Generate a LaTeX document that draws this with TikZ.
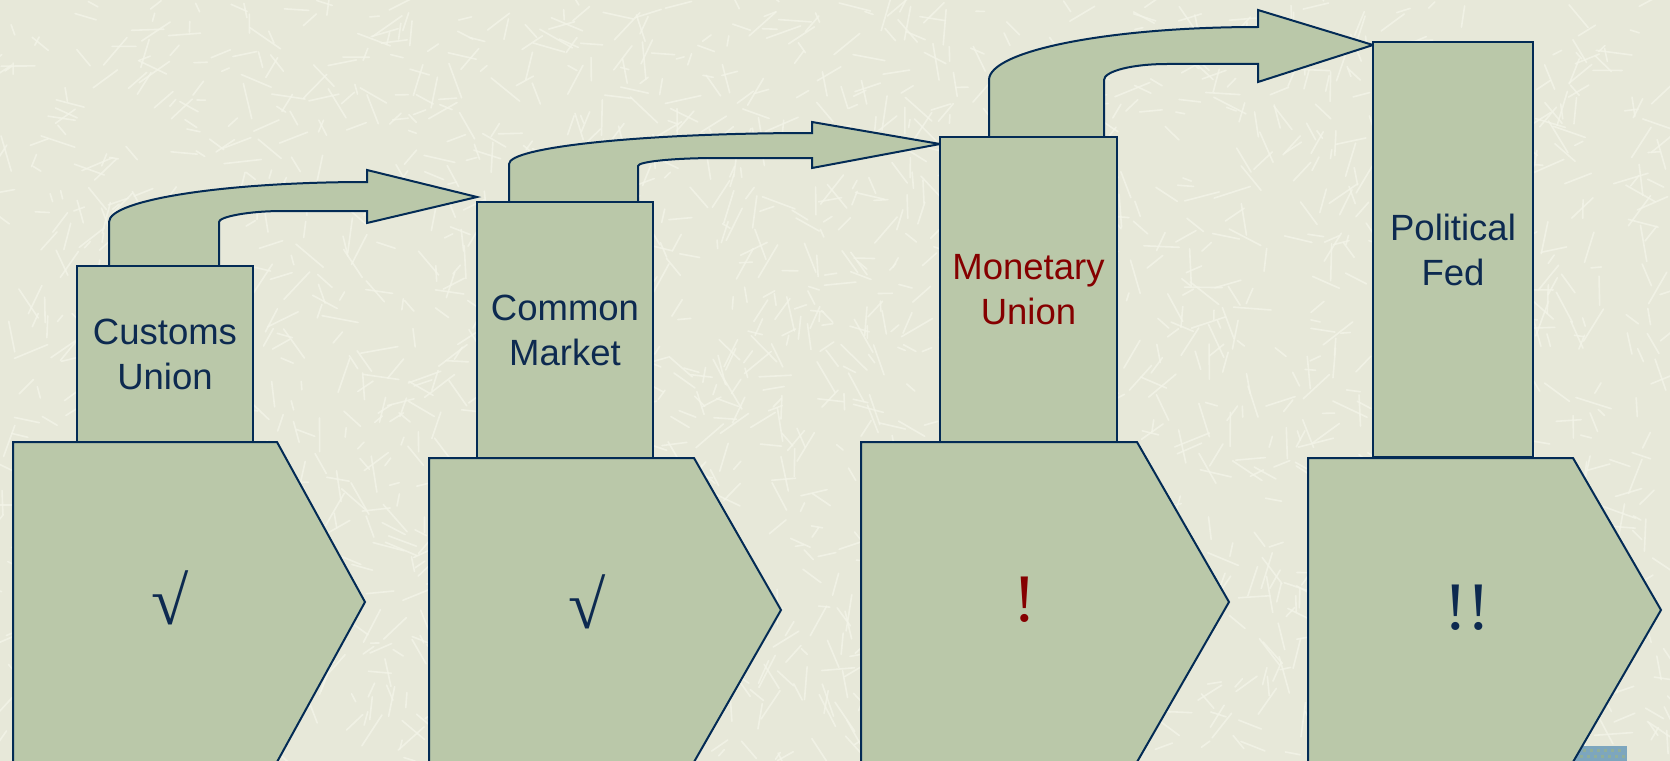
\documentclass[tikz,border=0pt]{standalone}
\usepackage{fontspec}
\setmainfont{Liberation Sans}
\newfontfamily\symfont{Liberation Serif}
\definecolor{bgc}{HTML}{E7E8D9}
\definecolor{texc}{HTML}{F3F4E8}
\definecolor{fillc}{HTML}{BAC8A9}
\definecolor{linec}{HTML}{032B55}
\definecolor{navy}{HTML}{0D2A50}
\definecolor{dred}{HTML}{850000}
\definecolor{patchc}{HTML}{7DA6BE}
\definecolor{patchdot}{HTML}{8FAE9A}
\tikzset{
  shapest/.style={fill=fillc, draw=linec, line width=2bp, line join=miter},
  boxst/.style={shapest, rectangle, inner sep=0pt, outer sep=0pt, align=center,
     font=\fontsize{36.5bp}{45bp}\selectfont, text=navy},
  symst/.style={inner sep=0pt, font=\symfont\fontsize{68bp}{72bp}\selectfont, text=navy},
  texst/.style={draw=texc, line width=1.6bp, line cap=round, opacity=0.8}
}
\begin{document}
\begin{tikzpicture}[x=1bp,y=-1bp]
\useasboundingbox (0,0) rectangle (1670,761);
\fill[bgc] (0,0) rectangle (1670,761);
% background texture
\pgfmathsetseed{7}
\foreach \i in {1,...,2200}{
  \pgfmathsetmacro\xx{rnd*1670}
  \pgfmathsetmacro\yy{rnd*761}
  \pgfmathsetmacro\aa{rnd*360}
  \pgfmathsetmacro\ll{8+rnd*30}
  \draw[texst] (\xx,\yy) -- ++(\aa:\ll);
}
% small patch bottom right
\fill[patchc] (1573,746) rectangle (1627,761);
\foreach \px in {1576,1583,...,1618}{
  \fill[patchdot] (\px,749) rectangle ++(3,3);
  \fill[patchdot] (\px+3.5,755) rectangle ++(3,3);
}
% lower pentagons
\draw[shapest] (13,442) -- (277,442) -- (365,602) -- (277,762) -- (13,762) -- cycle;
\draw[shapest] (429,458) -- (694,458) -- (781,610) -- (694,762) -- (429,762) -- cycle;
\draw[shapest] (861,442) -- (1137,442) -- (1229,602) -- (1137,762) -- (861,762) -- cycle;
\draw[shapest] (1308,458) -- (1573,458) -- (1661,610) -- (1573,762) -- (1308,762) -- cycle;
\node[symst] (s1) at (170,598) {√};
\node[symst] (s2) at (587,602) {√};
\node[symst, text=dred] (s3) at (1025,600) {!};
\node[symst] (s4) at (1467,608) {!!};
% bent arrows
\draw[shapest] (109,266) -- (109,222)
  .. controls (109,199.9) and (224.5,182) .. (367,182)
  -- (367,170) -- (477,197) -- (367,223) -- (367,211) -- (283,211)
  .. controls (247.7,211) and (219,216.9) .. (219,222) -- (219,266) -- cycle;
\draw[shapest] (509,202) -- (509,164)
  .. controls (509,146.9) and (644.7,133) .. (812,133)
  -- (812,122) -- (940,144) -- (812,168) -- (812,158) -- (718,158)
  .. controls (673.8,158) and (638,161.6) .. (638,166) -- (638,202) -- cycle;
\draw[shapest] (989,137) -- (989,80)
  .. controls (989,50.7) and (1109.4,27) .. (1258,27)
  -- (1258,10) -- (1373,45) -- (1258,82) -- (1258,64) -- (1167,64)
  .. controls (1132.2,64) and (1104,71.2) .. (1104,80) -- (1104,137) -- cycle;
% upper boxes
\node[boxst, minimum width=176bp, minimum height=176bp] (b1) at (165,354) {Customs\\Union};
\node[boxst, minimum width=176bp, minimum height=256bp] (b2) at (565,330) {Common\\Market};
\node[boxst, minimum width=177bp, minimum height=305bp, text=dred] (b3) at (1028.5,289.5) {Monetary\\Union};
\node[boxst, minimum width=160bp, minimum height=415bp] (b4) at (1453,249.5) {Political\\Fed};
\end{tikzpicture}
\end{document}
